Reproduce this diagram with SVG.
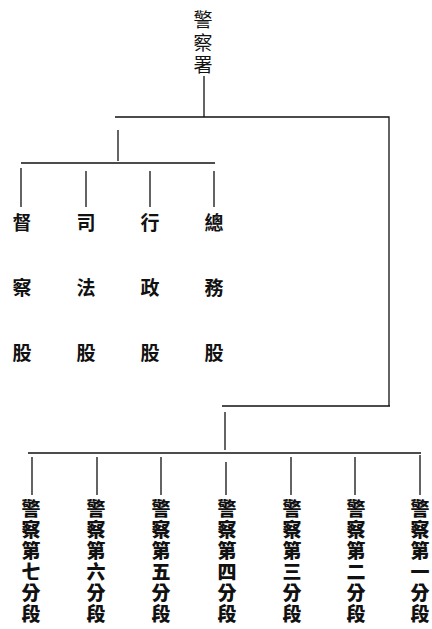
<svg xmlns="http://www.w3.org/2000/svg" width="432" height="629" viewBox="0 0 432 629">
<style>
.t{font-family:"Noto Sans CJK TC","Noto Sans CJK SC",sans-serif;font-weight:bold;fill:#111;text-anchor:middle;dominant-baseline:central}
.top{font-size:19px;font-weight:normal}
.mid{font-size:19px}
.bot{font-size:19px;font-weight:900}
.c{stroke:#111;stroke-width:1.3;fill:none}
</style>
<rect width="432" height="629" fill="#fff"/>
<g id="connectors" class="c">
<path d="M204,76 V117"/>
<path d="M115,117 H389 V406"/>
<path d="M118,130 V161"/>
<path d="M21,163 H215"/>
<path d="M21,168 V207 M86,171 V207 M150,171 V207 M214,171 V207"/>
<path d="M222,406 H390"/>
<path d="M225,412 V450"/>
<path d="M28,453 H421"/>
<path d="M32,457 V495 M97,457 V495 M161,457 V495 M226,462 V495 M291,457 V495 M355,457 V495 M420,455 V495"/>
</g>
<g id="n-police-station"><text class="t top"><tspan x="203" y="18">警</tspan><tspan x="203" y="41">察</tspan><tspan x="203" y="63">署</tspan></text></g>
<g id="n-dudu"><text class="t mid"><tspan x="22" y="221">督</tspan><tspan x="22" y="286">察</tspan><tspan x="22" y="351">股</tspan></text></g>
<g id="n-sifa"><text class="t mid"><tspan x="86" y="221">司</tspan><tspan x="86" y="286">法</tspan><tspan x="86" y="351">股</tspan></text></g>
<g id="n-xingzheng"><text class="t mid"><tspan x="150" y="221">行</tspan><tspan x="150" y="286">政</tspan><tspan x="150" y="351">股</tspan></text></g>
<g id="n-zongwu"><text class="t mid"><tspan x="214" y="221">總</tspan><tspan x="214" y="286">務</tspan><tspan x="214" y="351">股</tspan></text></g>
<g id="n-7"><text class="t bot"><tspan x="31" y="507">警</tspan><tspan x="31" y="528">察</tspan><tspan x="31" y="549">第</tspan><tspan x="31" y="570">七</tspan><tspan x="31" y="591">分</tspan><tspan x="31" y="612">段</tspan></text></g>
<g id="n-6"><text class="t bot"><tspan x="96" y="507">警</tspan><tspan x="96" y="528">察</tspan><tspan x="96" y="549">第</tspan><tspan x="96" y="570">六</tspan><tspan x="96" y="591">分</tspan><tspan x="96" y="612">段</tspan></text></g>
<g id="n-5"><text class="t bot"><tspan x="161" y="507">警</tspan><tspan x="161" y="528">察</tspan><tspan x="161" y="549">第</tspan><tspan x="161" y="570">五</tspan><tspan x="161" y="591">分</tspan><tspan x="161" y="612">段</tspan></text></g>
<g id="n-4"><text class="t bot"><tspan x="227" y="507">警</tspan><tspan x="227" y="528">察</tspan><tspan x="227" y="549">第</tspan><tspan x="227" y="570">四</tspan><tspan x="227" y="591">分</tspan><tspan x="227" y="612">段</tspan></text></g>
<g id="n-3"><text class="t bot"><tspan x="292" y="507">警</tspan><tspan x="292" y="528">察</tspan><tspan x="292" y="549">第</tspan><tspan x="292" y="570">三</tspan><tspan x="292" y="591">分</tspan><tspan x="292" y="612">段</tspan></text></g>
<g id="n-2"><text class="t bot"><tspan x="356" y="507">警</tspan><tspan x="356" y="528">察</tspan><tspan x="356" y="549">第</tspan><tspan x="356" y="570">二</tspan><tspan x="356" y="591">分</tspan><tspan x="356" y="612">段</tspan></text></g>
<g id="n-1"><text class="t bot"><tspan x="420" y="507">警</tspan><tspan x="420" y="528">察</tspan><tspan x="420" y="549">第</tspan><tspan x="420" y="570">一</tspan><tspan x="420" y="591">分</tspan><tspan x="420" y="612">段</tspan></text></g>
</svg>
